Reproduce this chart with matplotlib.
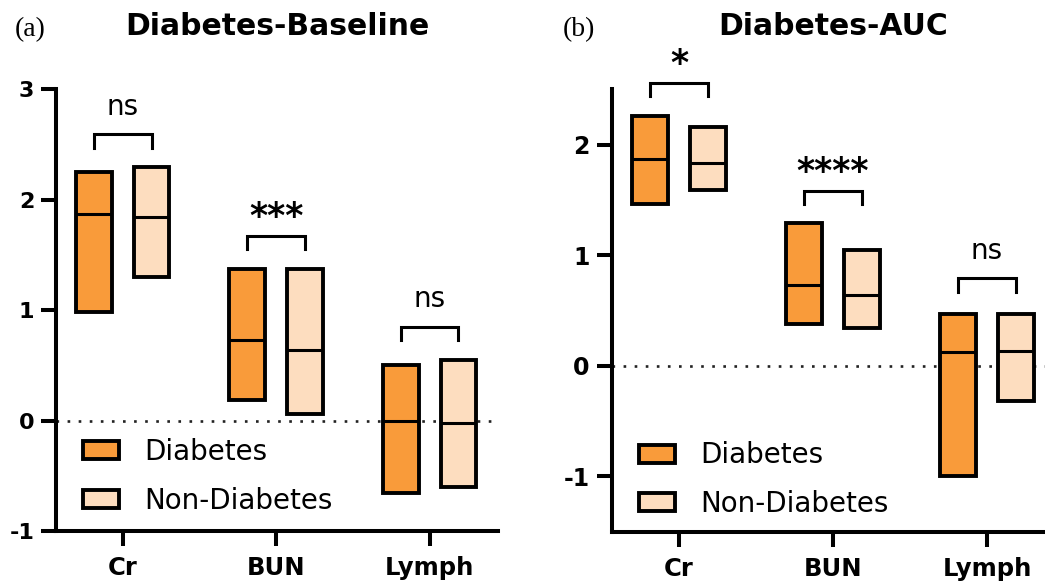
import matplotlib
matplotlib.use("Agg")
import matplotlib.pyplot as plt
from matplotlib.patches import Patch
import numpy as np

# ---------------- data ----------------
categories = ["Cr", "BUN", "Lymph"]
groups = ["Diabetes", "Non-Diabetes"]

# panel (a) Diabetes-Baseline : min, median, max
a_diab_min = [0.98, 0.19, -0.66]
a_diab_med = [1.87, 0.73, 0.00]
a_diab_max = [2.25, 1.37, 0.50]
a_non_min = [1.30, 0.06, -0.60]
a_non_med = [1.84, 0.64, -0.02]
a_non_max = [2.30, 1.37, 0.55]
a_sig = ["ns", "***", "ns"]
a_bracket = [2.59, 1.67, 0.85]

# panel (b) Diabetes-AUC
b_diab_min = [1.46, 0.38, -1.00]
b_diab_med = [1.87, 0.73, 0.12]
b_diab_max = [2.26, 1.29, 0.47]
b_non_min = [1.59, 0.34, -0.32]
b_non_med = [1.83, 0.64, 0.13]
b_non_max = [2.16, 1.05, 0.47]
b_sig = ["*", "****", "ns"]
b_bracket = [2.56, 1.58, 0.79]

a_yticks = [-1, 0, 1, 2, 3]
b_yticks = [-1, 0, 1, 2]

# ---------------- style ----------------
C_DIAB = "#F99B3A"
C_NON = "#FDDDBF"
LW = 2.8
W = 0.233
OFF = 0.188

plt.rcParams["font.family"] = ["DejaVu Sans"]

FW, FH = 1045, 583
fig = plt.figure(figsize=(FW / 100, FH / 100), dpi=100)
ax_a = fig.add_axes([56.4 / FW, (FH - 531) / FH, 441.1 / FW, 441.8 / FH])
ax_b = fig.add_axes([612 / FW, (FH - 531.6) / FH, 442.8 / FW, 442.4 / FH])


def draw(ax, dmin, dmed, dmax, nmin, nmed, nmax, sig, brk, xlim, ylim, yticks,
         ytick_size, title, leg_anchor):
    x = np.arange(len(categories))
    for xs, lo, med, hi, col in [(x - OFF, dmin, dmed, dmax, C_DIAB),
                                 (x + OFF, nmin, nmed, nmax, C_NON)]:
        lo = np.array(lo); hi = np.array(hi); med = np.array(med)
        ax.bar(xs, hi - lo, bottom=lo, width=W, color=col, edgecolor="black",
               linewidth=LW, zorder=3)
        ax.hlines(med, xs - W / 2, xs + W / 2, color="black", linewidth=2.2,
                  zorder=4)
    ax.axhline(0, color="#222222", linestyle=(0, (1, 3.2)), linewidth=1.9,
               zorder=2)
    leg_h = 0.12
    for i in range(len(categories)):
        x1, x2 = x[i] - OFF, x[i] + OFF
        y = brk[i]
        ax.plot([x1, x1, x2, x2], [y - leg_h, y, y, y - leg_h], color="black",
                linewidth=2.2, solid_joinstyle="miter", zorder=3, clip_on=False)
        if "*" in sig[i]:
            ax.text(x[i], y + 0.17, sig[i], ha="center", va="center",
                    fontsize=25, fontweight="bold", clip_on=False)
        else:
            ax.text(x[i], y + 0.12, sig[i], ha="center", va="bottom",
                    fontsize=20, clip_on=False)
    ax.set_xlim(*xlim)
    ax.set_ylim(*ylim)
    ax.set_yticks(yticks)
    ax.set_yticklabels([str(t) for t in yticks], fontsize=ytick_size,
                       fontweight="bold")
    ax.set_xticks(x)
    ax.set_xticklabels(categories, fontsize=17.5, fontweight="bold")
    for s in ["top", "right"]:
        ax.spines[s].set_visible(False)
    for s in ["left", "bottom"]:
        ax.spines[s].set_linewidth(2.9)
    ax.tick_params(axis="both", width=2.9, length=11, pad=5)
    ax.tick_params(axis="x", pad=7)
    handles = [Patch(facecolor=C_DIAB, edgecolor="black", linewidth=2.8),
               Patch(facecolor=C_NON, edgecolor="black", linewidth=2.8)]
    ax.legend(handles, groups, loc="upper left", bbox_to_anchor=leg_anchor,
              frameon=False, fontsize=20, handlelength=1.31, handleheight=0.62,
              handletextpad=0.9, labelspacing=0.75, borderpad=0,
              borderaxespad=0)
    ax.text(0.5, 1 + (89.2 - 26.5) / 441.8, title, transform=ax.transAxes,
            ha="center", va="center", fontsize=21.5, fontweight="bold")
    return ax


draw(ax_a, a_diab_min, a_diab_med, a_diab_max, a_non_min, a_non_med, a_non_max,
     a_sig, a_bracket, (-0.432, 2.443), (-1, 3), a_yticks, 16,
     "Diabetes-Baseline", (0.060, 0.21))
draw(ax_b, b_diab_min, b_diab_med, b_diab_max, b_non_min, b_non_med, b_non_max,
     b_sig, b_bracket, (-0.435, 2.44), (-1.5, 2.5), b_yticks, 17,
     "Diabetes-AUC", (0.0605, 0.204))

fig.text(29.8 / FW, 1 - 29.5 / FH, "(a)", family="Liberation Serif",
         fontsize=20, ha="center", va="center")
fig.text(578.5 / FW, 1 - 29.5 / FH, "(b)", family="Liberation Serif",
         fontsize=20, ha="center", va="center")

fig.savefig("out.png", dpi=100)
